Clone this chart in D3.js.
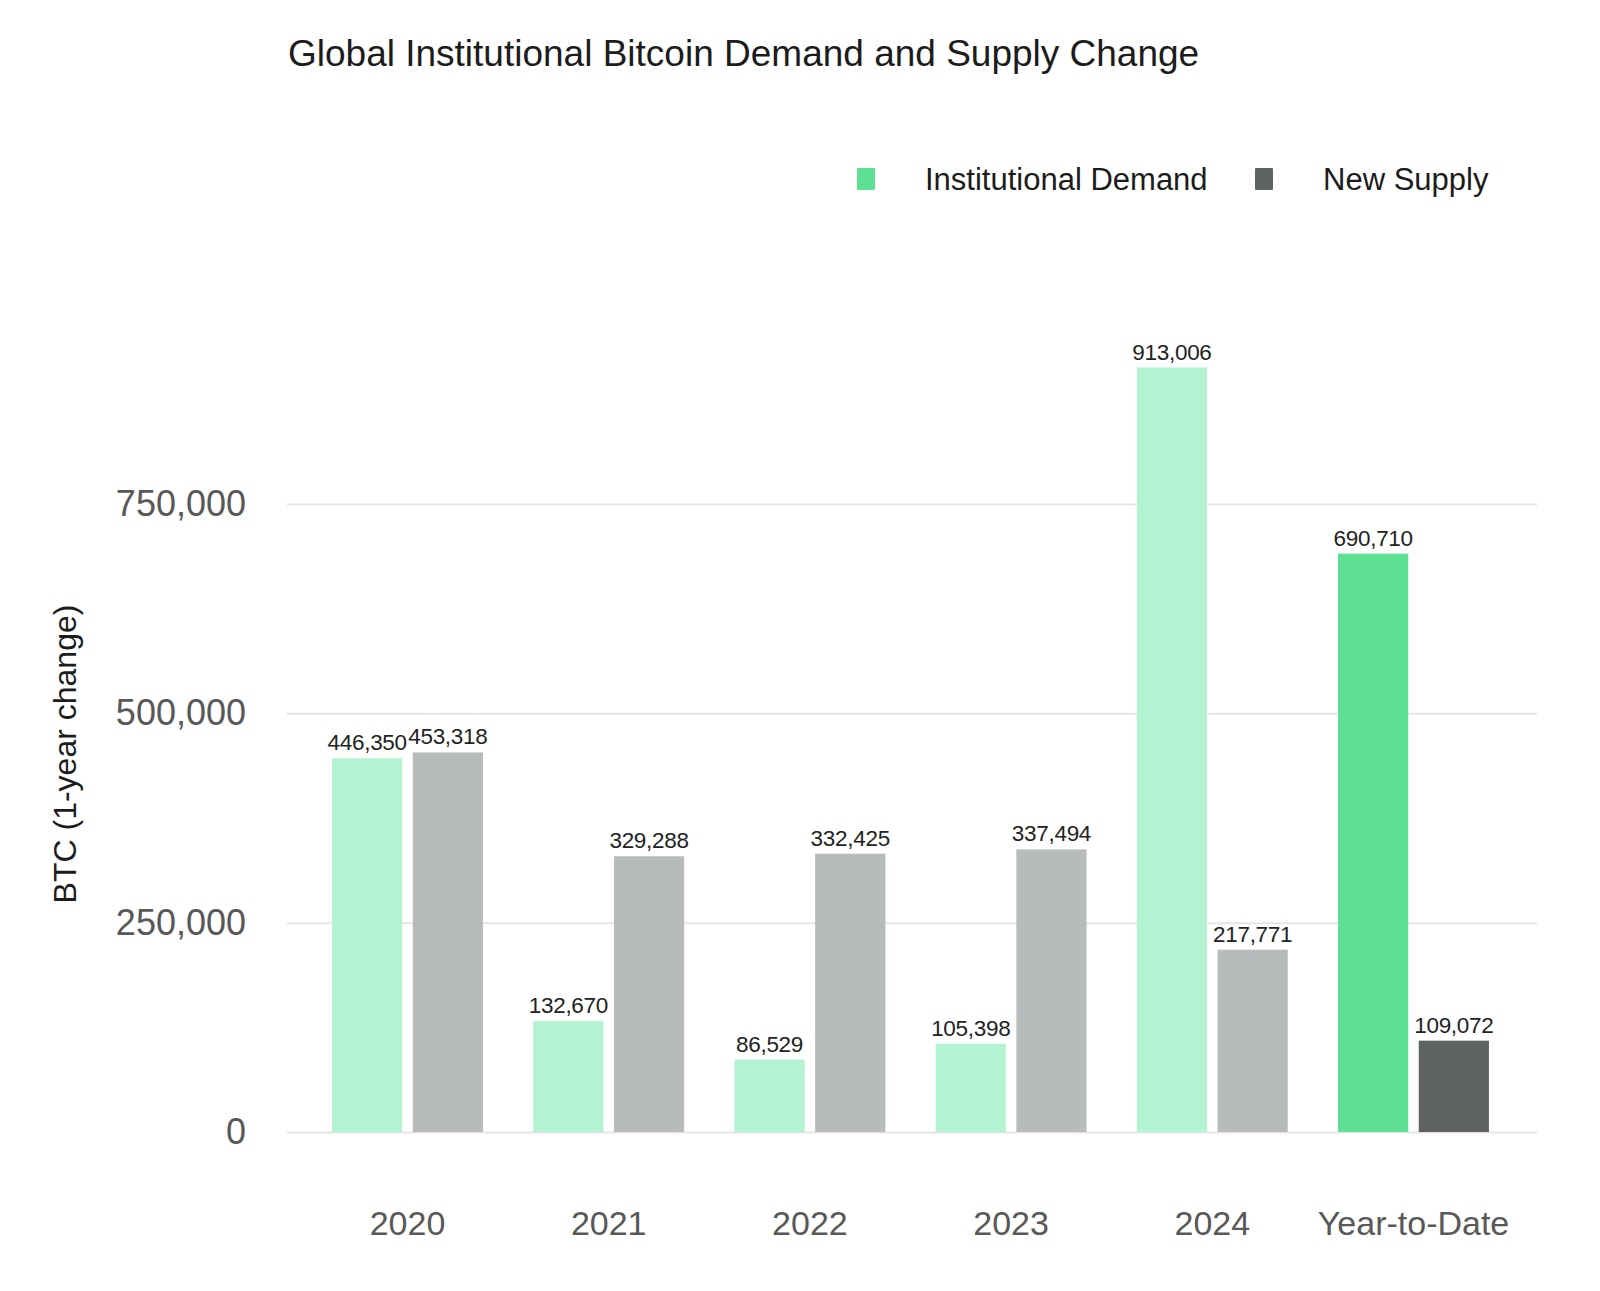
<!DOCTYPE html>
<html>
<head>
<meta charset="utf-8">
<script src="https://cdn.jsdelivr.net/npm/d3@7"></script>
<style>
  html, body { margin: 0; padding: 0; background: #ffffff; }
  svg { display: block; font-family: 'Liberation Sans', Arial, Helvetica, sans-serif; }
</style>
</head>
<body>
<svg id="chart" width="1600" height="1291"></svg>
<script>
const categories = ['2020', '2021', '2022', '2023', '2024', 'Year-to-Date'];
const demand = [446350, 132670, 86529, 105398, 913006, 690710];
const supply = [453318, 329288, 332425, 337494, 217771, 109072];
const seriesNames = ['Institutional Demand', 'New Supply'];
const yTicks = [0, 250000, 500000, 750000];

const COLORS = {
  demand: '#b3f3d2',
  supply: '#b8bbbc',
  demandHighlight: '#5ddf94',
  supplyHighlight: '#5f6263',
  grid: '#e6e6e6',
  tick: '#585858',
  text: '#1c1c1c'
};

const PLOT = {
  left: 287,
  right: 1537,
  top: 504,
  bottom: 1132
};

const svg = d3.select('#chart');

const rows = categories.map((c, i) => ({
  category: c,
  values: [
    { key: 'demand', value: demand[i] },
    { key: 'supply', value: supply[i] }
  ]
}));

// scales
const scaleX = d3.scaleBand()
  .domain(categories)
  .range([306.9, 1514.1])
  .paddingInner(0.25)
  .paddingOuter(0.125);

const scaleSub = d3.scaleBand()
  .domain(['demand', 'supply'])
  .range([0, scaleX.bandwidth()])
  .paddingInner(0.13);

const scaleY = d3.scaleLinear()
  .domain([0, 750000])
  .range([PLOT.bottom, PLOT.top]);

const fmt = d3.format(',');

function barColor(key, category) {
  if (category === 'Year-to-Date') {
    return key === 'demand' ? COLORS.demandHighlight : COLORS.supplyHighlight;
  }
  return COLORS[key];
}

// title
svg.append('text')
  .attr('x', 288)
  .attr('y', 66)
  .attr('font-size', 37)
  .attr('fill', COLORS.text)
  .text('Global Institutional Bitcoin Demand and Supply Change');

// legend
const legendItems = [
  { name: seriesNames[0], color: COLORS.demandHighlight, x: 857 },
  { name: seriesNames[1], color: COLORS.supplyHighlight, x: 1255 }
];

const legend = svg.append('g')
  .attr('class', 'legend')
  .selectAll('g')
  .data(legendItems)
  .enter()
  .append('g')
  .attr('transform', d => 'translate(' + d.x + ',0)');

legend.append('rect')
  .attr('x', 0)
  .attr('y', 168)
  .attr('width', 18)
  .attr('height', 22)
  .attr('rx', 1)
  .attr('fill', d => d.color);

legend.append('text')
  .attr('x', 68)
  .attr('y', 190)
  .attr('font-size', 31)
  .attr('fill', COLORS.text)
  .text(d => d.name);

// y axis + grid
const axisY = d3.axisLeft(scaleY)
  .tickValues(yTicks)
  .tickSize(-(PLOT.right - PLOT.left))
  .tickPadding(41)
  .tickFormat(d => fmt(d));

svg.append('g')
  .attr('class', 'axis axis-y')
  .attr('transform', 'translate(' + PLOT.left + ',0)')
  .call(axisY)
  .call(g => g.select('.domain').remove())
  .call(g => g.selectAll('.tick line')
    .attr('stroke', COLORS.grid)
    .attr('stroke-width', 2))
  .call(g => g.selectAll('.tick text')
    .attr('font-size', 36)
    .attr('fill', COLORS.tick)
    .attr('font-family', null));

svg.append('text')
  .attr('class', 'axis-title')
  .attr('transform', 'translate(76,754) rotate(-90)')
  .attr('text-anchor', 'middle')
  .attr('font-size', 32)
  .attr('fill', COLORS.text)
  .text('BTC (1-year change)');

// bars
const groups = svg.append('g')
  .attr('class', 'bars')
  .selectAll('g')
  .data(rows)
  .enter()
  .append('g')
  .attr('transform', d => 'translate(' + scaleX(d.category) + ',0)');

groups.selectAll('rect')
  .data(d => d.values.map(v => Object.assign({ category: d.category }, v)))
  .enter()
  .append('rect')
  .attr('x', d => scaleSub(d.key))
  .attr('y', d => scaleY(d.value))
  .attr('width', scaleSub.bandwidth())
  .attr('height', d => scaleY(0) - scaleY(d.value))
  .attr('fill', d => barColor(d.key, d.category));

groups.selectAll('text')
  .data(d => d.values)
  .enter()
  .append('text')
  .attr('class', 'bar-label')
  .attr('x', d => scaleSub(d.key) + scaleSub.bandwidth() / 2)
  .attr('y', d => scaleY(d.value) - 8)
  .attr('text-anchor', 'middle')
  .attr('font-size', 22.5)
  .attr('letter-spacing', -0.3)
  .attr('fill', '#222222')
  .text(d => fmt(d.value));

// x axis labels
const axisX = d3.axisBottom(scaleX)
  .tickSize(0)
  .tickPadding(0);

svg.append('g')
  .attr('class', 'axis axis-x')
  .attr('transform', 'translate(0,1211)')
  .call(axisX)
  .call(g => g.select('.domain').remove())
  .call(g => g.selectAll('.tick text')
    .attr('font-size', 34)
    .attr('fill', COLORS.tick)
    .attr('font-family', null));
</script>
</body>
</html>
